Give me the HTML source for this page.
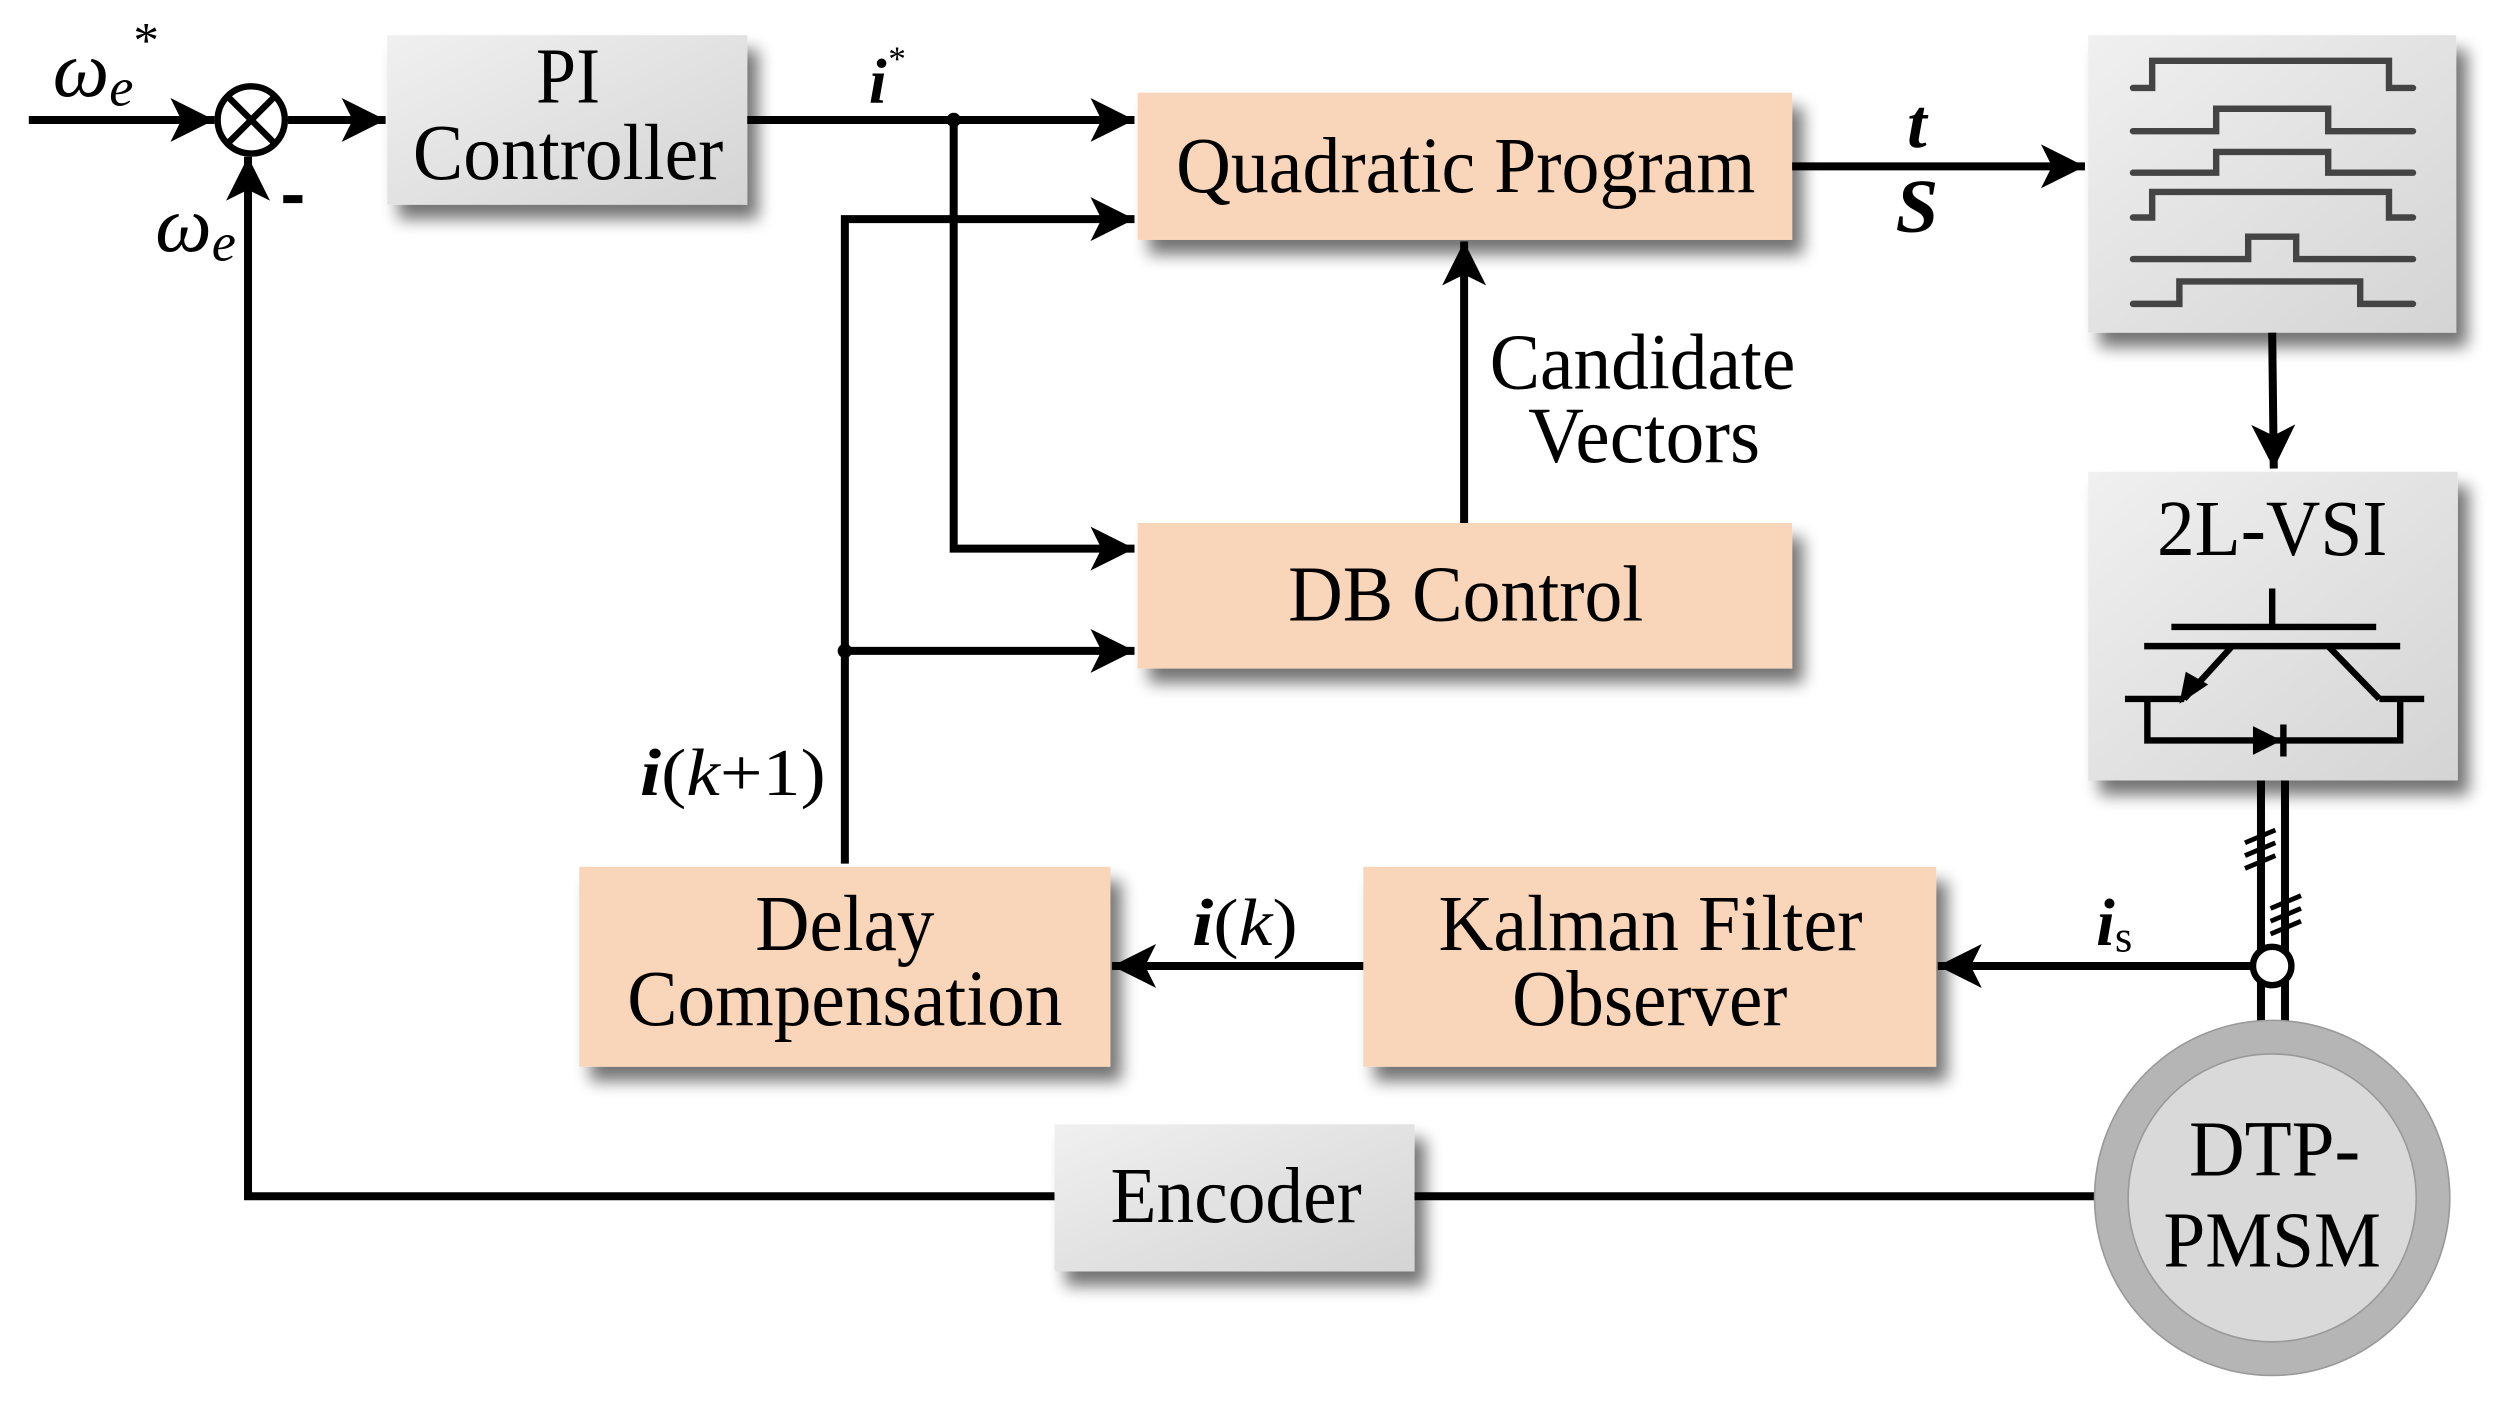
<!DOCTYPE html>
<html><head><meta charset="utf-8"><style>
html,body{margin:0;padding:0;background:#fff;}
svg{display:block;}
text{font-family:"Liberation Serif",serif;fill:#000;}
</style></head><body>
<svg width="2509" height="1401" viewBox="0 0 1568 876" xmlns="http://www.w3.org/2000/svg" preserveAspectRatio="none">
<defs>
<filter id="sh" x="-10%" y="-10%" width="130%" height="140%">
<feGaussianBlur in="SourceAlpha" stdDeviation="5"/>
<feOffset dx="7" dy="9" result="b"/>
<feComponentTransfer><feFuncA type="linear" slope="0.55"/></feComponentTransfer>
<feMerge><feMergeNode/><feMergeNode in="SourceGraphic"/></feMerge>
</filter>
<linearGradient id="gr" x1="0" y1="0" x2="1" y2="1">
<stop offset="0" stop-color="#f0f0f0"/><stop offset="1" stop-color="#d4d4d4"/>
</linearGradient>
<marker id="ar" viewBox="0 0 10 10" refX="10" refY="5" markerWidth="5.5" markerHeight="5.5" orient="auto" markerUnits="strokeWidth">
<path d="M0,0 L10,5 L0,10 L2.5,5 z" fill="#000"/>
</marker>
</defs>

<g filter="url(#sh)">
<rect x="242" y="22" width="225" height="106" fill="url(#gr)"/>
<rect x="711" y="58" width="409" height="92" fill="#f9d5b9"/>
<rect x="711" y="327" width="409" height="91" fill="#f9d5b9"/>
<rect x="1305" y="22" width="230" height="186" fill="url(#gr)"/>
<rect x="1305" y="295" width="231" height="193" fill="url(#gr)"/>
<rect x="852" y="542" width="358" height="125" fill="#f9d5b9"/>
<rect x="362" y="542" width="332" height="125" fill="#f9d5b9"/>
<rect x="659" y="703" width="225" height="92" fill="url(#gr)"/>
</g>

<g stroke="#000" stroke-width="5" fill="none">
<line x1="18" y1="75" x2="134" y2="75" marker-end="url(#ar)"/>
<line x1="180" y1="75" x2="241" y2="75" marker-end="url(#ar)"/>
<line x1="467" y1="75" x2="709" y2="75" marker-end="url(#ar)"/>
<polyline points="596,75 596,343 709,343" marker-end="url(#ar)"/>
<polyline points="528,540 528,137 709,137" marker-end="url(#ar)"/>
<line x1="528" y1="407" x2="709" y2="407" marker-end="url(#ar)"/>
<line x1="915" y1="327" x2="915" y2="151" marker-end="url(#ar)"/>
<line x1="1120" y1="104" x2="1303" y2="104" marker-end="url(#ar)"/>
<line x1="1420" y1="208" x2="1421" y2="293" marker-end="url(#ar)"/>
<line x1="1408" y1="604" x2="1211" y2="604" marker-end="url(#ar)"/>
<line x1="852" y1="604" x2="695" y2="604" marker-end="url(#ar)"/>
<line x1="1310" y1="748" x2="884" y2="748"/>
<polyline points="659,748 155,748 155,98" marker-end="url(#ar)"/>
<line x1="1413" y1="488" x2="1413" y2="640"/>
<line x1="1428" y1="488" x2="1428" y2="640"/>
</g>
<circle cx="596" cy="75" r="4.5"/>
<circle cx="528" cy="407" r="4.5"/>
<circle cx="157" cy="75" r="21" fill="#fff" stroke="#000" stroke-width="4"/>
<line x1="142" y1="60" x2="172" y2="90" stroke="#000" stroke-width="4"/>
<line x1="172" y1="60" x2="142" y2="90" stroke="#000" stroke-width="4"/>
<rect x="177" y="122" width="12" height="5"/>
<g stroke="#000" stroke-width="3">
<line x1="1403" y1="527" x2="1422" y2="519"/><line x1="1403" y1="535" x2="1422" y2="527"/><line x1="1403" y1="543" x2="1422" y2="535"/>
<line x1="1419" y1="568" x2="1438" y2="560"/><line x1="1419" y1="576" x2="1438" y2="568"/><line x1="1419" y1="584" x2="1438" y2="576"/>
</g>
<circle cx="1420" cy="604" r="12" fill="#fff" stroke="#000" stroke-width="4"/>
<ellipse cx="1420" cy="749" rx="111" ry="111" fill="#b5b5b5" stroke="#999" stroke-width="1"/>
<ellipse cx="1420" cy="749" rx="90" ry="90" fill="#d9d9d9" stroke="#999" stroke-width="1"/>

<g stroke="#444" stroke-width="4" fill="none" stroke-linecap="round">
<polyline points="1333,55 1345,55 1345,38 1493,38 1493,55 1508,55"/>
<polyline points="1333,82 1385,82 1385,68 1455,68 1455,82 1508,82"/>
<polyline points="1333,108 1385,108 1385,95 1455,95 1455,108 1508,108"/>
<polyline points="1333,136 1345,136 1345,120 1493,120 1493,136 1508,136"/>
<polyline points="1333,162 1405,162 1405,148 1435,148 1435,162 1508,162"/>
<polyline points="1333,190 1362,190 1362,176 1475,176 1475,190 1508,190"/>
</g>
<g stroke="#000" stroke-width="4" fill="none">
<line x1="1420" y1="368" x2="1420" y2="392"/>
<line x1="1357" y1="392" x2="1485" y2="392"/>
<line x1="1340" y1="404" x2="1500" y2="404"/>
<line x1="1395" y1="404" x2="1365" y2="437"/>
<line x1="1455" y1="404" x2="1487" y2="437"/>
<line x1="1328" y1="437" x2="1365" y2="437"/>
<line x1="1487" y1="437" x2="1515" y2="437"/>
<polyline points="1342,437 1342,463 1500,463 1500,437"/>
<line x1="1427" y1="453" x2="1427" y2="473"/>
</g>
<path d="M1362,440 L1366,420 L1380,428 z" fill="#000"/>
<path d="M1408,454 L1426,463 L1408,472 z" fill="#000"/>

<g font-size="50" lengthAdjust="spacingAndGlyphs">
<text x="335" y="64" textLength="40" lengthAdjust="spacingAndGlyphs">PI</text>
<text x="258" y="112" textLength="194" lengthAdjust="spacingAndGlyphs">Controller</text>
<text x="735" y="120" textLength="362" lengthAdjust="spacingAndGlyphs">Quadratic Program</text>
<text x="805" y="388" textLength="222" lengthAdjust="spacingAndGlyphs">DB Control</text>
<text x="931" y="243" textLength="191" lengthAdjust="spacingAndGlyphs">Candidate</text>
<text x="955" y="289" textLength="145" lengthAdjust="spacingAndGlyphs">Vectors</text>
<text x="1348" y="347" textLength="144" lengthAdjust="spacingAndGlyphs">2L-VSI</text>
<text x="899" y="594" textLength="265" lengthAdjust="spacingAndGlyphs">Kalman Filter</text>
<text x="945" y="641" textLength="172" lengthAdjust="spacingAndGlyphs">Observer</text>
<text x="472" y="594" textLength="112" lengthAdjust="spacingAndGlyphs">Delay</text>
<text x="392" y="641" textLength="272" lengthAdjust="spacingAndGlyphs">Compensation</text>
<text x="694" y="764" textLength="157" lengthAdjust="spacingAndGlyphs">Encoder</text>
<text x="1368" y="735" textLength="107" lengthAdjust="spacingAndGlyphs">DTP-</text>
<text x="1352" y="792" textLength="136" lengthAdjust="spacingAndGlyphs">PMSM</text>
</g>
<text x="33" y="60" font-size="50" font-style="italic">ω<tspan font-size="34" dy="6">e</tspan><tspan font-size="32" dy="-30" font-style="normal">*</tspan></text>
<text x="97" y="157" font-size="50" font-style="italic">ω<tspan font-size="34" dy="6">e</tspan></text>
<text x="543" y="64" font-size="40" font-style="italic" font-weight="bold">i<tspan font-size="22" dy="-20" font-weight="normal">*</tspan></text>
<text x="1198" y="92" font-size="44" font-style="italic" font-weight="bold" text-anchor="middle">t</text>
<text x="1198" y="145" font-size="48" font-style="italic" font-weight="bold" text-anchor="middle">S</text>
<text x="1310" y="591" font-size="42" font-style="italic" font-weight="bold">i<tspan font-size="28" dy="4" font-style="normal" font-weight="normal">s</tspan></text>
<text x="745" y="591" font-size="42" textLength="66" lengthAdjust="spacingAndGlyphs"><tspan font-style="italic" font-weight="bold">i</tspan>(<tspan font-style="italic">k</tspan>)</text>
<text x="400" y="497" font-size="42" textLength="116" lengthAdjust="spacingAndGlyphs"><tspan font-style="italic" font-weight="bold">i</tspan>(<tspan font-style="italic">k</tspan>+1)</text>
</svg>
</body></html>
